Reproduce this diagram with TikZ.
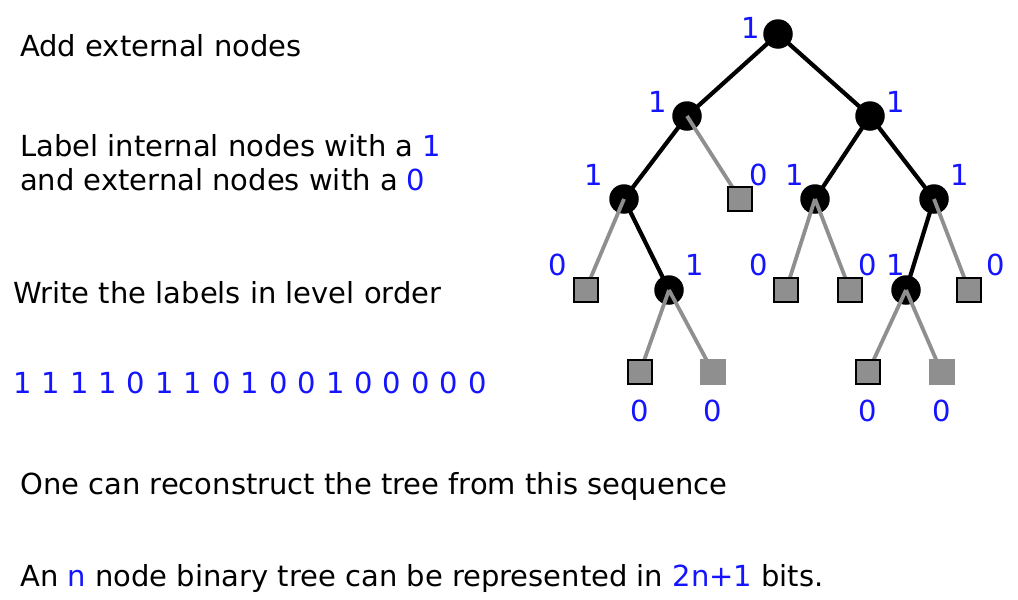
\documentclass[tikz,border=0pt]{standalone}
\usepackage{fontspec}
\setmainfont{DejaVu Sans}
\definecolor{lblue}{RGB}{20,20,255}
\definecolor{lgray}{RGB}{143,143,143}
\begin{document}
\begin{tikzpicture}[x=1pt,y=-1pt,
  txt/.style={anchor=base west,inner sep=0pt,font=\fontsize{29}{33}\selectfont},
  lbl/.style={inner sep=0pt,text=lblue,font=\fontsize{29}{33}\selectfont},
  inode/.style={circle,fill=black,minimum size=29.5pt,inner sep=0pt},
  xnode/.style={rectangle,fill=lgray,draw=black,line width=2pt,minimum size=24pt,inner sep=0pt},
  xnodeb/.style={rectangle,fill=lgray,minimum size=26pt,inner sep=0pt},
  bedge/.style={draw=black,line width=4.2pt},
  gedge/.style={draw=lgray,line width=3.8pt}]
\useasboundingbox (0,0) rectangle (1018,600);
% texts
\node[txt] (t1) at (20,56) {Add external nodes};
\node[txt] (t2) at (20,156.7) {Label internal nodes with a \textcolor{lblue}{1}};
\node[txt] (t3) at (20,190) {and external nodes with a \textcolor{lblue}{0}};
\node[txt] (t4) at (13,303.3) {Write the labels in level order};
\node[txt,text=lblue] (t5) at (13,393.3) {\spaceskip=10pt\relax 1 1 1 1 0 1 1 0 1 0 0 1 0 0 0 0 0};
\node[txt] (t6) at (20,494) {One can reconstruct the tree from this sequence};
\node[txt] (t7) at (20,586.7) {An \textcolor{lblue}{n} node binary tree can be represented in \textcolor{lblue}{2n+1} bits.};
% coordinates of tree nodes
\coordinate (r) at (778,34);
\coordinate (a) at (687,116);
\coordinate (b) at (870,116);
\coordinate (aa) at (624,199);
\coordinate (ab) at (740,199);
\coordinate (ba) at (815,199);
\coordinate (bb) at (934,199);
\coordinate (aaa) at (585.5,290);
\coordinate (aab) at (669,290);
\coordinate (baa) at (786,290);
\coordinate (bab) at (850,290);
\coordinate (bba) at (906,290);
\coordinate (bbb) at (969,290);
\coordinate (aaba) at (640,372);
\coordinate (aabb) at (713,372);
\coordinate (bbaa) at (868,372);
\coordinate (bbab) at (941.5,372);
% black edges
\draw[bedge] (r) -- (a) (r) -- (b) (a) -- (aa) (b) -- (ba) (b) -- (bb) (aa) -- (aab) (bb) -- (bba);
% internal nodes
\foreach \n in {r,a,b,aa,ba,bb,aab,bba} \node[inode] (n\n) at (\n) {};
% gray edges
\draw[gedge] (na.center) -- (ab) (naa.center) -- (aaa) (nba.center) -- (baa) (nba.center) -- (bab)
  (nbb.center) -- (bbb) (naab.center) -- (aaba) (naab.center) -- (aabb)
  (nbba.center) -- (bbaa) (nbba.center) -- (bbab);
% external nodes
\foreach \n in {ab,aaa,baa,bab,bbb,aaba,bbaa} \node[xnode] (n\n) at (\n) {};
\foreach \n in {aabb,bbab} \node[xnodeb] (n\n) at (\n) {};
% labels
\node[lbl] (l1) at (750.5,27.5) {1};
\node[lbl] (l2) at (658,102) {1};
\node[lbl] (l3) at (895.5,102) {1};
\node[lbl] (l4) at (594,175) {1};
\node[lbl] (l5) at (758.5,175) {0};
\node[lbl] (l6) at (795,175) {1};
\node[lbl] (l7) at (960,175) {1};
\node[lbl] (l8) at (557.5,265) {0};
\node[lbl] (l9) at (694.5,265) {1};
\node[lbl] (l10) at (758.5,265) {0};
\node[lbl] (l11) at (868,265) {0};
\node[lbl] (l12) at (896,265) {1};
\node[lbl] (l13) at (995.5,265) {0};
\node[lbl] (l14) at (640,411) {0};
\node[lbl] (l15) at (713,411) {0};
\node[lbl] (l16) at (868,411) {0};
\node[lbl] (l17) at (941.5,411) {0};
\end{tikzpicture}
\end{document}
